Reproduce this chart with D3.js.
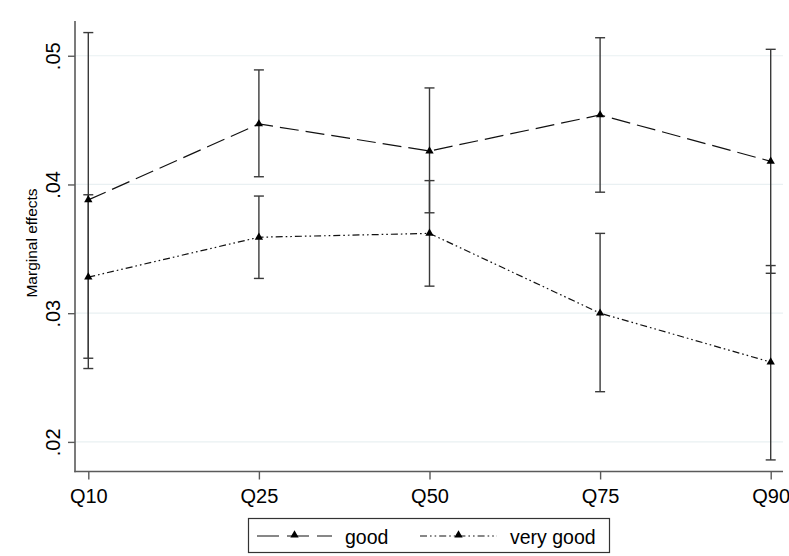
<!DOCTYPE html>
<html>
<head>
<meta charset="utf-8">
<script src="https://cdn.jsdelivr.net/npm/d3@7"></script>
<style>
  html, body { margin: 0; padding: 0; background: #fff; }
  svg { display: block; font-family: "Liberation Sans", Arial, sans-serif; }
</style>
</head>
<body>
<svg id="chart" width="789" height="556"></svg>
<script>
const categories = ["Q10", "Q25", "Q50", "Q75", "Q90"];
const goodValues = [0.0388, 0.0447, 0.0426, 0.0454, 0.0418];
const goodLower  = [0.0257, 0.0406, 0.0378, 0.0394, 0.0331];
const goodUpper  = [0.0518, 0.0489, 0.0475, 0.0514, 0.0505];
const veryGoodValues = [0.0328, 0.0359, 0.0362, 0.0300, 0.0262];
const veryGoodLower  = [0.0265, 0.0327, 0.0321, 0.0239, 0.0186];
const veryGoodUpper  = [0.0392, 0.0391, 0.0403, 0.0362, 0.0337];
const yTicks = [0.02, 0.03, 0.04, 0.05];
const yTickLabels = [".02", ".03", ".04", ".05"];
const seriesNames = ["good", "very good"];
const yTitle = "Marginal effects";

const svg = d3.select("#chart");
const axisX0 = 75, axisX1 = 783, axisY0 = 471.5, axisY1 = 21;

const x = d3.scalePoint().domain(categories).range([88.3, 770.7]);
const y = d3.scaleLinear().domain([0.0177, 0.0527]).range([axisY0, axisY1]);

const axisColor = "#5a5a5a";
const gridColor = "#e9f0f2";

// gridlines
svg.append("g").selectAll("line").data(yTicks).join("line")
  .attr("x1", axisX0).attr("x2", axisX1)
  .attr("y1", d => y(d)).attr("y2", d => y(d))
  .attr("stroke", gridColor).attr("stroke-width", 1.2);

// y axis
const yAxis = d3.axisLeft(y).tickValues(yTicks).tickSize(7).tickPadding(0)
  .tickFormat((d, i) => yTickLabels[i]);
const gy = svg.append("g").attr("transform", `translate(${axisX0},0)`).call(yAxis);
gy.select(".domain").remove();
gy.selectAll(".tick line").attr("stroke", axisColor).attr("stroke-width", 1.4);
gy.selectAll(".tick text")
  .attr("transform", "rotate(-90)")
  .attr("x", 0).attr("y", -15).attr("dy", 0)
  .attr("text-anchor", "middle")
  .attr("fill", "#000").attr("font-size", 20)
  .attr("font-family", "Liberation Sans, Arial, sans-serif");
svg.append("line").attr("x1", axisX0).attr("x2", axisX0)
  .attr("y1", axisY1).attr("y2", axisY0 + 0.7)
  .attr("stroke", axisColor).attr("stroke-width", 1.6);

// x axis
const xAxis = d3.axisBottom(x).tickSize(8).tickPadding(6);
const gx = svg.append("g").attr("transform", `translate(0,${axisY0})`).call(xAxis);
gx.select(".domain").remove();
gx.selectAll(".tick line").attr("stroke", axisColor).attr("stroke-width", 1.4);
gx.selectAll(".tick text").attr("fill", "#000").attr("font-size", 20)
  .attr("y", 31).attr("dy", 0)
  .attr("font-family", "Liberation Sans, Arial, sans-serif");
svg.append("line").attr("x1", axisX0 - 0.7).attr("x2", axisX1)
  .attr("y1", axisY0).attr("y2", axisY0)
  .attr("stroke", axisColor).attr("stroke-width", 1.6);

// y title
svg.append("text")
  .attr("transform", `translate(37,243) rotate(-90)`)
  .attr("text-anchor", "middle")
  .attr("font-size", 15.5).attr("fill", "#000")
  .text(yTitle);

// error bars
const ciColor = "#3a3a3a";
function drawCI(lower, upper) {
  const g = svg.append("g");
  categories.forEach((c, i) => {
    const cx = x(c);
    g.append("line").attr("x1", cx).attr("x2", cx)
      .attr("y1", y(lower[i])).attr("y2", y(upper[i]))
      .attr("stroke", ciColor).attr("stroke-width", 1.4);
    [lower[i], upper[i]].forEach(v => {
      g.append("line").attr("x1", cx - 5).attr("x2", cx + 5)
        .attr("y1", y(v)).attr("y2", y(v))
        .attr("stroke", ciColor).attr("stroke-width", 1.4);
    });
  });
}
drawCI(goodLower, goodUpper);
drawCI(veryGoodLower, veryGoodUpper);

// lines
const dashes = ["19,7", "7,3,1.6,3,1.6,3"];
const line = d3.line().x((d, i) => x(categories[i])).y(d => y(d));
[goodValues, veryGoodValues].forEach((vals, k) => {
  svg.append("path").datum(vals)
    .attr("d", line)
    .attr("fill", "none").attr("stroke", "#111")
    .attr("stroke-width", 1.2)
    .attr("stroke-dasharray", dashes[k]);
});

// markers
const tri = d3.symbol().type(d3.symbolTriangle).size(30);
[goodValues, veryGoodValues].forEach(vals => {
  svg.append("g").selectAll("path").data(vals).join("path")
    .attr("d", tri)
    .attr("transform", (d, i) => `translate(${x(categories[i])},${y(d)})`)
    .attr("fill", "#000");
});

// legend
const lg = svg.append("g");
lg.append("rect").attr("x", 248.5).attr("y", 518.5).attr("width", 361).attr("height", 34)
  .attr("fill", "#fff").attr("stroke", "#333").attr("stroke-width", 1.2);
const keyX = [[257, 332], [420, 497]];
const textX = [345, 510];
seriesNames.forEach((name, k) => {
  lg.append("line").attr("x1", keyX[k][0]).attr("x2", keyX[k][1])
    .attr("y1", 536).attr("y2", 536)
    .attr("stroke", "#111").attr("stroke-width", 1.1)
    .attr("stroke-dasharray", k === 0 ? "22,8" : "7,3,1.6,3,1.6,3");
  lg.append("path").attr("d", tri)
    .attr("transform", `translate(${(keyX[k][0] + keyX[k][1]) / 2},535)`)
    .attr("fill", "#000");
  lg.append("text").attr("x", textX[k]).attr("y", 543.5)
    .attr("font-size", 19.5).attr("fill", "#000").text(name);
});
</script>
</body>
</html>
